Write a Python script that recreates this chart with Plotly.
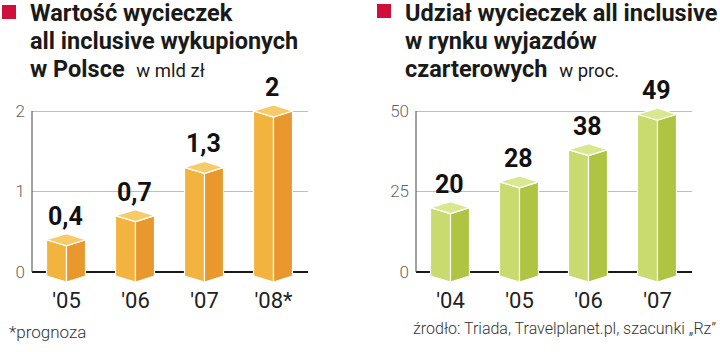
import plotly.graph_objects as go

# ---- data ----
left_categories = ["'05", "'06", "'07", "'08*"]
left_values = [0.4, 0.7, 1.3, 2.0]
left_labels = ["0,4", "0,7", "1,3", "2"]

right_categories = ["'04", "'05", "'06", "'07"]
right_values = [20, 28, 38, 49]
right_labels = ["20", "28", "38", "49"]

left_title = ["Wartość wycieczek", "all inclusive wykupionych", "w Polsce"]
left_unit = "w mld zł"
right_title = ["Udział wycieczek all inclusive", "w rynku wyjazdów", "czarterowych"]
right_unit = "w proc."
footnote = "*prognoza"
source = "źrodło: Triada, Travelplanet.pl, szacunki „Rz”"

W, H = 720, 352
FONT = "Roboto"

# ---- layout geometry (pixels) ----
top_px, bot_px = 100, 285
zero_px, top_grid_px = 272, 111
left_dom = (32, 308)
right_dom = (416, 692)

def yrange(vmax):
    s = (zero_px - top_grid_px) / vmax
    return [-(bot_px - zero_px) / s, vmax + (top_grid_px - top_px) / s], s

l_range, l_s = yrange(2.0)
r_range, r_s = yrange(50.0)
xs = (left_dom[1] - left_dom[0]) / 4.0  # px per category unit

colors_left = dict(front="#F2B33F", side="#E8982C", top="#F7CB68")
colors_right = dict(front="#C9DA6E", side="#AFC443", top="#D9E78F")

fig = go.Figure()

def add_prisms(values, s, xa, ya, cols):
    fw, sw = 20 / xs, 19 / xs
    d = 6 / s
    b1, b2 = 4 / s, 10 / s
    for i, v in enumerate(values):
        xc = i
        faces = [
            ([xc - fw, xc, xc, xc - fw, xc - fw], [v, v - d, -b2, -b1, v], cols["front"]),
            ([xc, xc + sw, xc + sw, xc, xc], [v - d, v, -b1, -b2, v - d], cols["side"]),
            ([xc - fw, xc, xc + sw, xc, xc - fw], [v, v + d, v, v - d, v], cols["top"]),
        ]
        for fx, fy, c in faces:
            fig.add_trace(go.Scatter(
                x=fx, y=fy, xaxis=xa, yaxis=ya, mode="lines", fill="toself",
                fillcolor=c, line=dict(color="white", width=1.2),
                hoverinfo="skip", showlegend=False, cliponaxis=False))

add_prisms(left_values, l_s, "x", "y", colors_left)
add_prisms(right_values, r_s, "x2", "y2", colors_right)

def px2x(p):
    return p / W

def px2y(p):
    return 1 - p / H

ydom = [px2y(bot_px), px2y(top_px)]
axis_common = dict(showgrid=False, zeroline=False, showline=False, range=[-0.5, 3.5],
                   tickvals=[0, 1, 2, 3], ticks="", fixedrange=True,
                   tickfont=dict(family=FONT, size=22, color="#222"))
ytick_font = dict(family=FONT, size=17, color="#666", weight=300)
fig.update_layout(
    width=W, height=H, margin=dict(l=0, r=0, t=0, b=0),
    paper_bgcolor="white", plot_bgcolor="white",
    xaxis=dict(domain=[px2x(left_dom[0]), px2x(left_dom[1])], ticktext=left_categories,
               anchor="y", **axis_common),
    xaxis2=dict(domain=[px2x(right_dom[0]), px2x(right_dom[1])], ticktext=right_categories,
                anchor="y2", **axis_common),
    yaxis=dict(domain=ydom, range=l_range, tick0=0, dtick=1, anchor="x",
               showgrid=True, gridcolor="#BDBDBD", gridwidth=1,
               zeroline=True, zerolinecolor="#1a1a1a", zerolinewidth=2,
               tickfont=ytick_font, ticks="", ticklabelstandoff=6, fixedrange=True),
    yaxis2=dict(domain=ydom, range=r_range, tick0=0, dtick=25, anchor="x2",
                showgrid=True, gridcolor="#BDBDBD", gridwidth=1,
                zeroline=True, zerolinecolor="#1a1a1a", zerolinewidth=2,
                tickfont=ytick_font, ticks="", ticklabelstandoff=6, fixedrange=True),
)

# y-axis lines (from 0 to top gridline)
fig.add_shape(type="line", xref="x domain", yref="y", x0=0, x1=0, y0=0, y1=2,
              line=dict(color="#444", width=1))
fig.add_shape(type="line", xref="x2 domain", yref="y2", x0=0, x1=0, y0=0, y1=50,
              line=dict(color="#444", width=1))

ann = []
# value labels
for i, (v, t) in enumerate(zip(left_values, left_labels)):
    ann.append(dict(x=i - 0.02, y=v, xref="x", yref="y", text=f"<b>{t}</b>", showarrow=False,
                    yanchor="bottom", yshift=7, font=dict(family=FONT, size=25, color="#111")))
for i, (v, t) in enumerate(zip(right_values, right_labels)):
    ann.append(dict(x=i - 0.02, y=v, xref="x2", yref="y2", text=f"<b>{t}</b>", showarrow=False,
                    yanchor="bottom", yshift=7, font=dict(family=FONT, size=25, color="#111")))

# titles
def title_block(x_px, lines, unit):
    for k, line in enumerate(lines):
        txt = f"<b>{line}</b>"
        if k == len(lines) - 1:
            txt += f"  <span style='font-size:18.5px'>{unit}</span>"
        ann.append(dict(x=px2x(x_px), y=px2y(13 + 28 * k), xref="paper", yref="paper",
                        xanchor="left", yanchor="middle", text=txt, showarrow=False,
                        font=dict(family=FONT, size=23.5, color="#1a1a1a")))

title_block(28, left_title, left_unit)
title_block(403, right_title, right_unit)

ann.append(dict(x=px2x(7), y=px2y(332), xref="paper", yref="paper", xanchor="left",
                yanchor="middle", text=footnote, showarrow=False,
                font=dict(family=FONT, size=17, color="#333", weight=300)))
ann.append(dict(x=px2x(718), y=px2y(328), xref="paper", yref="paper", xanchor="right",
                yanchor="middle", text=source, showarrow=False,
                font=dict(family=FONT, size=16, color="#333", weight=300)))
fig.update_layout(annotations=ann)

# red squares
for x0, y0 in [(2, 5), (377, 4)]:
    fig.add_shape(type="rect", xref="paper", yref="paper",
                  x0=px2x(x0), x1=px2x(x0 + 14), y0=px2y(y0), y1=px2y(y0 + 14),
                  fillcolor="#D0103A", line=dict(width=0))

fig.write_html("out.html")
